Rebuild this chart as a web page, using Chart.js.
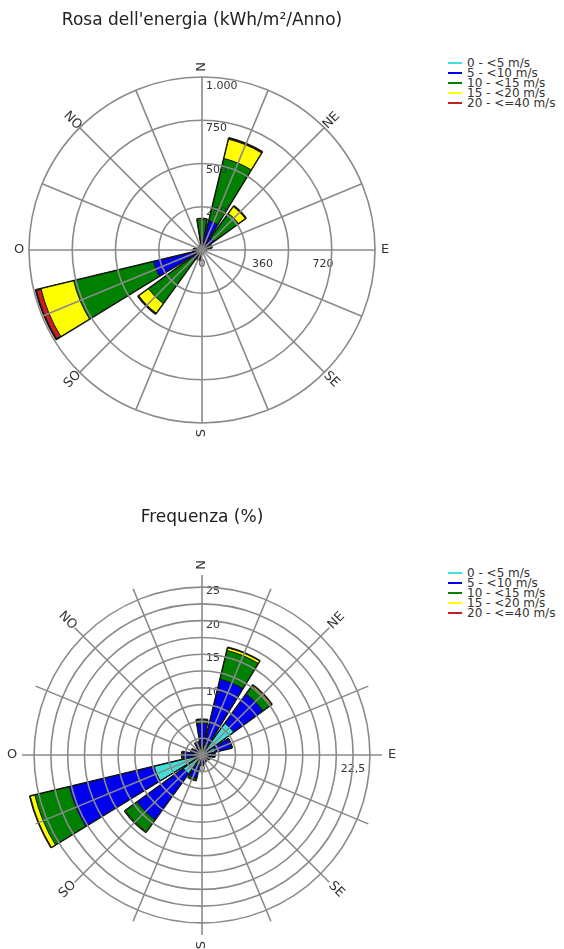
<!DOCTYPE html>
<html>
<head>
<meta charset="utf-8">
<script src="https://cdn.jsdelivr.net/npm/chart.js@4.4.1/dist/chart.umd.min.js"></script>
<style>
  body { margin: 0; background: #fff; font-family: "DejaVu Sans", sans-serif; }
  #page { position: relative; width: 564px; height: 949px; overflow: hidden; }
  canvas { position: absolute; left: 0; }
  .legend { position: absolute; left: 448px; font-size: 12px; color: #333; }
  .legend div { position: relative; height: 10px; line-height: 10px; padding-left: 19px; white-space: nowrap; }
  .legend span { position: absolute; left: 0; top: 4px; width: 14px; height: 2px; }
</style>
</head>
<body>
<div id="page">
  <canvas id="energia" width="404" height="505" style="top:0"></canvas>
  <div class="legend" id="legEnergia" style="top:58px"></div>
  <canvas id="frequenza" width="404" height="444" style="top:505px"></canvas>
  <div class="legend" id="legFrequenza" style="top:568px"></div>
</div>
<script>
// 16 sectors, clockwise from north (Italian names)
const directions = ["N", "NNE", "NE", "ENE", "E", "ESE", "SE", "SSE", "S", "SSO", "SO", "OSO", "O", "ONO", "NO", "NNO"];
const speedClasses = ["0 - <5 m/s", "5 - <10 m/s", "10 - <15 m/s", "15 - <20 m/s", "20 - <=40 m/s"];
const classColors = ["#40e0d8", "#0000f0", "#008000", "#ffff00", "#c81e1e"];

// energy rose, kWh/m²/anno per speed class
const energy0_5   = [1, 3, 4, 3, 1, 1, 1, 1, 1, 1, 2, 4, 2, 1, 1, 1];
const energy5_10  = [55, 175, 86, 30, 12, 8, 6, 7, 10, 25, 68, 293, 30, 14, 8, 14];
const energy10_15 = [125, 382, 178, 27, 12, 6, 5, 7, 9, 30, 323, 489, 18, 10, 6, 15];
const energy15_20 = [5, 118, 50, 0, 0, 0, 0, 0, 0, 4, 71, 200, 0, 0, 0, 0];
const energy20_40 = [0, 8, 5, 0, 0, 0, 0, 0, 0, 0, 6, 32, 0, 0, 0, 0];

// frequency rose, % per speed class
const freq0_5   = [0.8, 1.5, 5.8, 2.0, 1.0, 0.8, 0.6, 0.7, 0.8, 1.5, 3.4, 7.3, 1.2, 0.8, 0.6, 0.8];
const freq5_10  = [3.9, 10.1, 5.4, 2.5, 0.8, 0.4, 0.3, 0.4, 0.6, 2.1, 8.5, 13.0, 1.6, 0.8, 0.5, 1.0];
const freq10_15 = [0.5, 4.4, 1.4, 0.1, 0.1, 0.05, 0.05, 0.05, 0.1, 0.3, 2.2, 5.3, 0.2, 0.1, 0.05, 0.2];
const freq15_20 = [0.1, 0.4, 0.2, 0, 0, 0, 0, 0, 0, 0, 0.1, 0.7, 0, 0, 0, 0];
const freq20_40 = [0, 0.05, 0.05, 0, 0, 0, 0, 0, 0, 0, 0, 0.05, 0, 0, 0, 0];

// radial tick labels (along N) and the extra labels along E
const energyTickValues = [250, 500, 750, 1000];
const energyTickLabels = ["250", "500", "750", "1.000"];
const energyAxisValues = [0, 360, 720];
const energyAxisLabels = ["0", "360", "720"];
const freqTickValues = [10, 15, 20, 25];
const freqTickLabels = ["10", "15", "20", "25"];
const freqAxisValues = [0, 22.5];
const freqAxisLabels = ["0", "22,5"];

const compassNames = directions.filter((d, i) => i % 2 === 0);

// each sector -> one bar of 18° and a gap of 4.5°; the N bar is split in two halves
function spread(values) {
  const out = [values[0]];
  for (let k = 1; k < values.length; k++) out.push(0, values[k]);
  out.push(0, values[0]);
  return out;
}
const arcAngles = spread(directions.map(() => 18))
  .map((a, i, arr) => i % 2 ? 4.5 : (i === 0 || i === arr.length - 1 ? 9 : 18));

function cumulate(classes) {
  return classes.map((_, c) => directions.map((d, k) => {
    let s = 0;
    for (let j = 0; j <= c; j++) s += classes[j][k];
    return s;
  }));
}

// stacked look: cumulative arcs overlaid, smallest drawn on top (dataset 0 is drawn last)
function roseDatasets(classes) {
  return cumulate(classes).map((vals, c) => ({
    label: speedClasses[c],
    data: spread(vals),
    angle: ctx => arcAngles[ctx.dataIndex],
    backgroundColor: ctx => ctx.dataIndex % 2 ? "rgba(0,0,0,0)" : classColors[c],
    borderColor: "#141414",
    borderWidth: ctx => ctx.dataIndex % 2 ? 0 : (c === classes.length - 1 ? 2 : 1)
  }));
}

function makeRoseText(cfg) {
  return {
    id: "roseText",
    afterDatasetsDraw(chart) {
      const r = chart.scales.r;
      const ctx = chart.ctx;
      ctx.save();
      ctx.fillStyle = "#333";
      ctx.textBaseline = "middle";
      ctx.font = "11px 'DejaVu Sans'";
      ctx.textAlign = "left";
      cfg.tickValues.forEach((v, i) => {
        const d = r.getDistanceFromCenterForValue(v);
        ctx.fillText(cfg.tickLabels[i], r.xCenter + 4, r.yCenter - d + 4);
      });
      ctx.textAlign = "center";
      cfg.axisValues.forEach((v, i) => {
        const d = r.getDistanceFromCenterForValue(v);
        ctx.fillText(cfg.axisLabels[i], r.xCenter + d, r.yCenter + 14);
      });
      ctx.restore();
    },
    afterDraw(chart) {
      const r = chart.scales.r;
      const ctx = chart.ctx;
      ctx.save();
      ctx.fillStyle = "#333";
      ctx.font = "13px 'DejaVu Sans'";
      ctx.textAlign = "center";
      ctx.textBaseline = "middle";
      compassNames.forEach((name, j) => {
        const idx = j * 2;
        const p = r.getPointPosition(idx, cfg.compassDist);
        const bearing = idx * 22.5;
        ctx.save();
        ctx.translate(p.x, p.y);
        ctx.rotate(((bearing % 180) - 90) * Math.PI / 180);
        ctx.fillText(name, 0, 0);
        ctx.restore();
      });
      ctx.restore();
    }
  };
}

function roseOptions(title, max, step, pad, titlePad) {
  return {
    responsive: false,
    animation: false,
    layout: { padding: pad },
    plugins: {
      legend: { display: false },
      tooltip: { enabled: false },
      title: {
        display: true, text: title, color: "#222", padding: titlePad,
        font: { family: "DejaVu Sans", size: 17, weight: "normal", lineHeight: 1.2 }
      }
    },
    scales: {
      r: {
        min: 0, max, startAngle: 0,
        ticks: { display: false, stepSize: step, includeBounds: false },
        grid: { circular: true, color: "#8a8a8a", lineWidth: 1.6, z: 1 },
        angleLines: { display: true, color: "#8a8a8a", lineWidth: 1.6 },
        pointLabels: { display: false }
      }
    }
  };
}

new Chart(document.getElementById("energia"), {
  type: "polarArea",
  data: { labels: directions, datasets: roseDatasets([energy0_5, energy5_10, energy10_15, energy15_20, energy20_40]) },
  options: roseOptions("Rosa dell'energia (kWh/m²/Anno)", 1030, 250,
    { left: 29, right: 29, top: 0, bottom: 82 }, { top: 10, bottom: 46.6 }),
  plugins: [makeRoseText({ tickValues: energyTickValues, tickLabels: energyTickLabels,
    axisValues: energyAxisValues, axisLabels: energyAxisLabels, compassDist: 183 })]
});

new Chart(document.getElementById("frequenza"), {
  type: "polarArea",
  data: { labels: directions, datasets: roseDatasets([freq0_5, freq5_10, freq10_15, freq15_20, freq20_40]) },
  options: roseOptions("Frequenza (%)", 26.8, 2.5,
    { left: 22, right: 22, top: 0, bottom: 14 }, { top: 2, bottom: 47.6 }),
  plugins: [makeRoseText({ tickValues: freqTickValues, tickLabels: freqTickLabels,
    axisValues: freqAxisValues, axisLabels: freqAxisLabels, compassDist: 190 })]
});

function buildLegend(id) {
  const box = document.getElementById(id);
  speedClasses.forEach((name, i) => {
    const row = document.createElement("div");
    const line = document.createElement("span");
    line.style.background = classColors[i];
    row.appendChild(line);
    row.appendChild(document.createTextNode(name));
    box.appendChild(row);
  });
}
buildLegend("legEnergia");
buildLegend("legFrequenza");
</script>
</body>
</html>
